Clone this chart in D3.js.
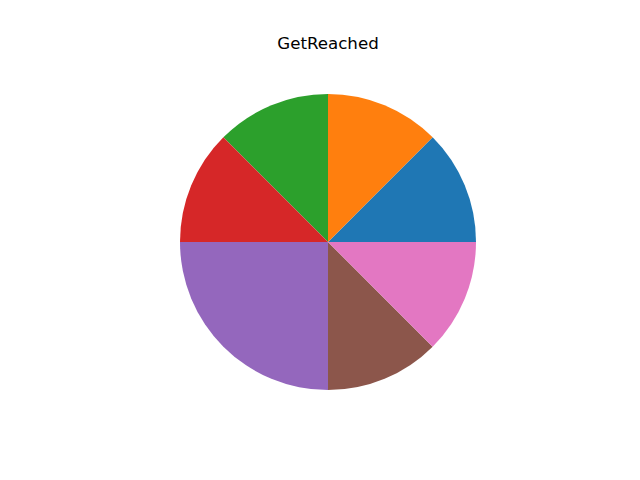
<!DOCTYPE html>
<html><head><meta charset="utf-8">
<script src="https://cdn.jsdelivr.net/npm/d3@7"></script>
<style>body{margin:0;background:#fff}</style>
</head><body>
<script>
const categories = ["A","B","C","D","E","F","G"];
const values = [1,1,1,1,2,1,1];
const colors = ["#1f77b4","#ff7f0e","#2ca02c","#d62728","#9467bd","#8c564b","#e377c2"];
const title = "GetReached";

const W=640,H=480,cx=328,cy=242,R=148;
const svg=d3.select("body").append("svg").attr("width",W).attr("height",H);
svg.append("rect").attr("width",W).attr("height",H).attr("fill","#fff");
const pie=d3.pie().sort(null).startAngle(Math.PI/2).endAngle(Math.PI/2-2*Math.PI);
const arc=d3.arc().innerRadius(0).outerRadius(R);
const data=categories.map((c,i)=>({c,v:values[i],col:colors[i]}));
svg.append("g").attr("transform",`translate(${cx},${cy})`)
 .selectAll("path").data(pie.value(d=>d.v)(data)).join("path")
 .attr("d",arc).attr("fill",d=>d.data.col);
svg.append("text").attr("x",cx).attr("y",49).attr("text-anchor","middle")
 .attr("font-family","DejaVu Sans").attr("font-size","16.67px").attr("fill","#000").text(title);
</script>
</body></html>
